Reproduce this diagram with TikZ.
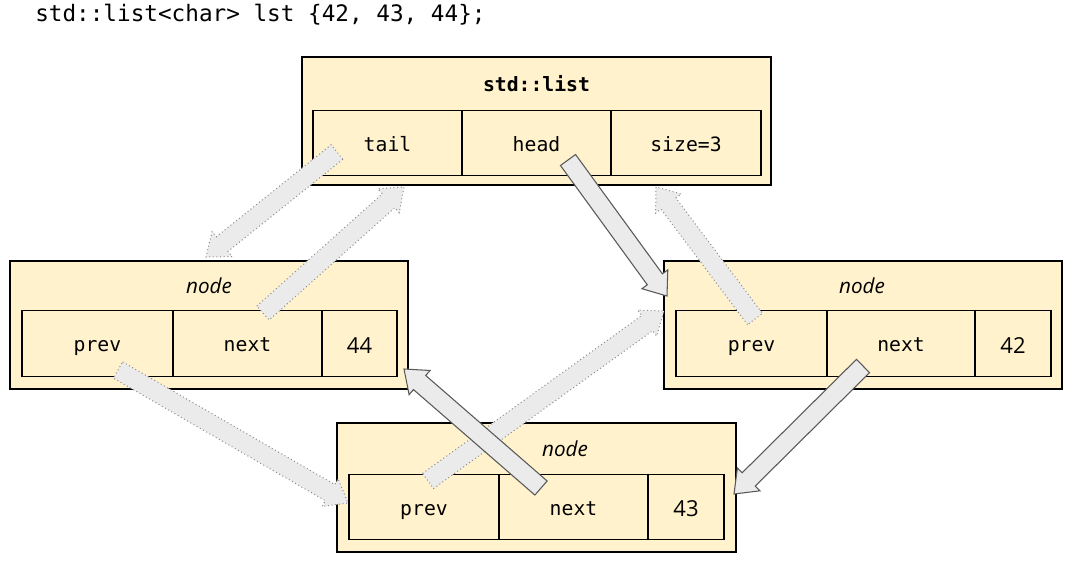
\documentclass[tikz,border=0pt]{standalone}
\usepackage{fontspec}
\setmainfont{Open Sans}
\setmonofont{DejaVu Sans Mono}
\usetikzlibrary{calc}
\definecolor{boxfill}{HTML}{FFF2CC}
\definecolor{arrowfill}{HTML}{EBEBEB}
\tikzset{
  outerbox/.style={draw=black, fill=boxfill, line width=0.9pt, inner sep=0pt,
    minimum width=#1, minimum height=96pt},
  cell/.style={draw=black, fill=boxfill, line width=0.8pt, inner sep=0pt,
    minimum width=#1, minimum height=49pt, text height=12.5pt, text depth=0pt,
    font=\ttfamily\fontsize{14.8}{16}\selectfont},
  numcell/.style={cell=#1, text height=14.5pt, text depth=0pt, font=\fontsize{16.5}{18}\selectfont},
  caption/.style={inner sep=0pt, font=\itshape\fontsize{15.5}{17}\selectfont},
  weakptr/.style={fill=arrowfill, draw=gray!90, dotted, line width=0.75pt},
  strongptr/.style={fill=arrowfill, draw=black!65, line width=0.8pt, line join=miter},
}
% block arrow from #2 to #3 drawn with style #1
\newcommand\ptrarrow[3]{%
  \coordinate (pa-c) at ($(#3)!15.5pt!(#2)$);
  \draw[#1] ($(#2)!7pt!90:(#3)$) -- ($(pa-c)!7pt!90:(#3)$)
    -- ($(pa-c)!12pt!90:(#3)$) -- (#3) -- ($(pa-c)!12pt!-90:(#3)$)
    -- ($(pa-c)!7pt!-90:(#3)$) -- ($(#2)!7pt!-90:(#3)$) -- cycle;}
\begin{document}
\begin{tikzpicture}[x=0.75pt,y=-0.75pt]
\useasboundingbox (0,0) rectangle (1073,561);

\node[anchor=west, inner sep=0pt, font=\ttfamily\fontsize{17}{19}\selectfont] (decl) at (35,15)
  {std::list<char> lst \{42, 43, 44\};};

% std::list object
\node[outerbox=351.75pt] (list) at (536.5,121) {};
\node[inner sep=0pt, font=\ttfamily\bfseries\fontsize{14.8}{16}\selectfont] (listtitle) at (536.5,84) {std::list};
\node[cell=111.75pt] (tail) at (387.5,143) {tail};
\node[cell=111.75pt] (head) at (536.5,143) {head};
\node[cell=112.5pt] (size) at (686,143) {size=3};

% node holding 44
\node[outerbox=298.5pt] (nodeL) at (209,325) {};
\node[caption] (nodeLcap) at (209,286) {node};
\node[cell=113.25pt] (prevL) at (97.5,343.5) {prev};
\node[cell=111.75pt] (nextL) at (247.5,343.5) {next};
\node[numcell=56.25pt] (valL) at (359.5,343.5) {44};

% node holding 42
\node[outerbox=298.5pt] (nodeR) at (863,325) {};
\node[caption] (nodeRcap) at (862,286) {node};
\node[cell=113.25pt] (prevR) at (751.5,343.5) {prev};
\node[cell=111pt] (nextR) at (901,343.5) {next};
\node[numcell=57pt] (valR) at (1013,343.5) {42};

% node holding 43
\node[outerbox=299.25pt, minimum height=96.75pt] (nodeB) at (536.5,487.5) {};
\node[caption] (nodeBcap) at (565,449) {node};
\node[cell=112.5pt] (prevB) at (424,507) {prev};
\node[cell=111.75pt] (nextB) at (573.5,507) {next};
\node[numcell=57pt] (valB) at (686,507) {43};

% pointer end points
\coordinate (tailFrom) at (337,152);   \coordinate (tailTo) at (206,257);
\coordinate (nextLFrom) at (263,313);  \coordinate (nextLTo) at (404,187);
\coordinate (prevRFrom) at (755,319);  \coordinate (prevRTo) at (656,187);
\coordinate (prevLFrom) at (118,370);  \coordinate (prevLTo) at (348,503);
\coordinate (prevBFrom) at (428,481);  \coordinate (prevBTo) at (664,311);
\coordinate (headFrom) at (568,160);   \coordinate (headTo) at (667,296);
\coordinate (nextBFrom) at (541,488);  \coordinate (nextBTo) at (404,369);
\coordinate (nextRFrom) at (863,366);  \coordinate (nextRTo) at (734,494);

% backward links
\ptrarrow{weakptr}{tailFrom}{tailTo}
\ptrarrow{weakptr}{nextLFrom}{nextLTo}
\ptrarrow{weakptr}{prevRFrom}{prevRTo}
\ptrarrow{weakptr}{prevLFrom}{prevLTo}
\ptrarrow{weakptr}{prevBFrom}{prevBTo}

% forward links
\ptrarrow{strongptr}{headFrom}{headTo}
\ptrarrow{strongptr}{nextBFrom}{nextBTo}
\ptrarrow{strongptr}{nextRFrom}{nextRTo}
\end{tikzpicture}
\end{document}
